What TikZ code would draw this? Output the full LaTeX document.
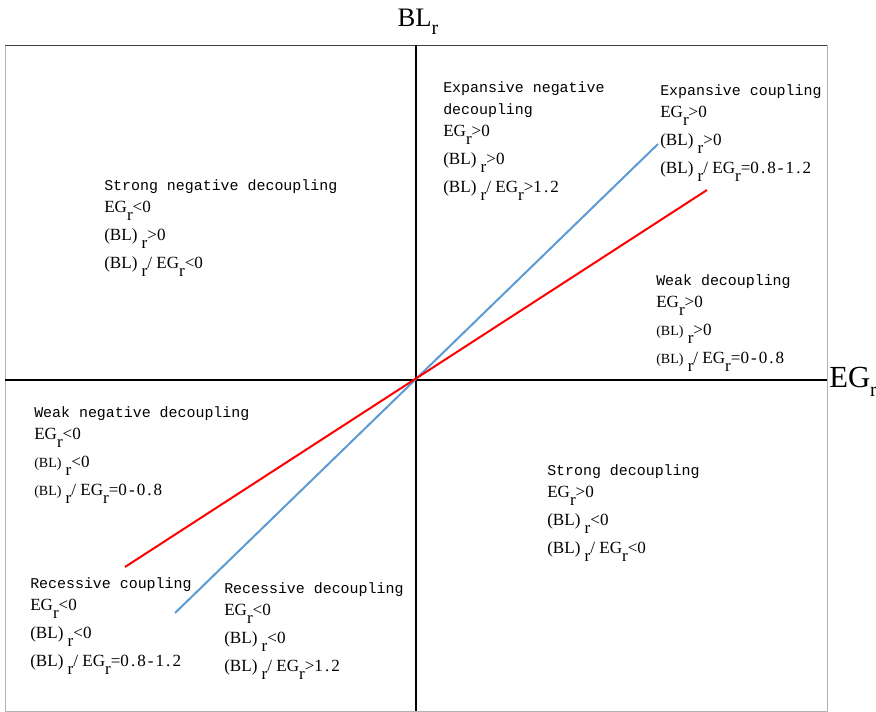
\documentclass[tikz,border=0pt]{standalone}
\usepackage{fontspec}
\setmainfont{Liberation Serif}
\setmonofont{Liberation Mono}
\definecolor{lineblue}{RGB}{91,155,213}
\newcommand{\lowr}{\raisebox{-0.5em}{r}}
\newcommand{\axr}{\raisebox{-0.3em}{\fontsize{15}{15}\selectfont r}}
\newcommand{\ttl}[1]{{\ttfamily\fontsize{11.2}{16.5}\selectfont #1}}
\newcommand{\val}[1]{{\addfontfeature{LetterSpace=12}#1}}
\newcommand{\smbl}{{\fontsize{10.5}{16.5}\selectfont (BL)}}
\newcommand{\blr}{\hspace{0.25em}\lowr}
\tikzset{
  zone/.style={anchor=north west,inner sep=0pt,align=left,
    font=\fontsize{12.8}{16.5}\selectfont},
  axislbl/.style={inner sep=0pt,font=\fontsize{20}{20}\selectfont},
}

\begin{document}
\begin{tikzpicture}[x=0.75pt,y=-0.75pt]
  \useasboundingbox (0,0) rectangle (876,712);
  % frame
  \draw[gray!60] (5,45) rectangle (827,711);
  \draw[black!75] (5,45) -- (827,45);
  % axes
  \coordinate (O) at (416,380);
  \coordinate (top) at (416,45);
  \coordinate (bot) at (416,711);
  \coordinate (left) at (5,380);
  \coordinate (right) at (827,380);
  \draw[line width=1.4pt] (top) -- (bot);
  \draw[line width=1.4pt] (left) -- (right);
  \node[axislbl,font=\fontsize{23}{23}\selectfont,anchor=west] (eg) at (829,382) {EG\axr};
  \node[axislbl] (bl) at (418,22) {BL\axr};
  % ratio lines
  \coordinate (b1) at (175,613);
  \coordinate (b2) at (658,144);
  \coordinate (r1) at (125,567);
  \coordinate (r2) at (707,190);
  \draw[lineblue,line width=1.5pt] (b1) -- (b2);
  \draw[red,line width=1.5pt] (r1) -- (r2);
  % zones
  \node[zone] (sndec) at (104,179) {\ttl{Strong negative decoupling}\\
    EG\lowr{}<\val{0}\\[4.5pt] (BL)\blr{}>\val{0}\\[4.5pt] (BL)\blr/ EG\lowr{}<\val{0}};
  \node[zone] (endec) at (443,81) {\ttl{Expansive negative}\\ \ttl{decoupling}\\
    EG\lowr{}>\val{0}\\[4.5pt] (BL)\blr{}>\val{0}\\[4.5pt] (BL)\blr/ EG\lowr{}>\val{1.2}};
  \node[zone] (ecoup) at (660,84) {\ttl{Expansive coupling}\\
    EG\lowr{}>\val{0}\\[4.5pt] (BL)\blr{}>\val{0}\\[4.5pt] (BL)\blr/ EG\lowr{}=\val{0.8-1.2}};
  \node[zone] (wdec) at (656,274) {\ttl{Weak decoupling}\\
    EG\lowr{}>\val{0}\\[4.5pt] \smbl\blr{}>\val{0}\\[4.5pt] \smbl\blr/ EG\lowr{}=\val{0-0.8}};
  \node[zone] (wndec) at (34,406) {\ttl{Weak negative decoupling}\\
    EG\lowr{}<\val{0}\\[4.5pt] \smbl\blr{}<\val{0}\\[4.5pt] \smbl\blr/ EG\lowr{}=\val{0-0.8}};
  \node[zone] (sdec) at (547,464) {\ttl{Strong decoupling}\\
    EG\lowr{}>\val{0}\\[4.5pt] (BL)\blr{}<\val{0}\\[4.5pt] (BL)\blr/ EG\lowr{}<\val{0}};
  \node[zone] (rcoup) at (30,577) {\ttl{Recessive coupling}\\
    EG\lowr{}<\val{0}\\[4.5pt] (BL)\blr{}<\val{0}\\[4.5pt] (BL)\blr/ EG\lowr{}=\val{0.8-1.2}};
  \node[zone] (rdec) at (224,582) {\ttl{Recessive decoupling}\\
    EG\lowr{}<\val{0}\\[4.5pt] (BL)\blr{}<\val{0}\\[4.5pt] (BL)\blr/ EG\lowr{}>\val{1.2}};
\end{tikzpicture}
\end{document}
